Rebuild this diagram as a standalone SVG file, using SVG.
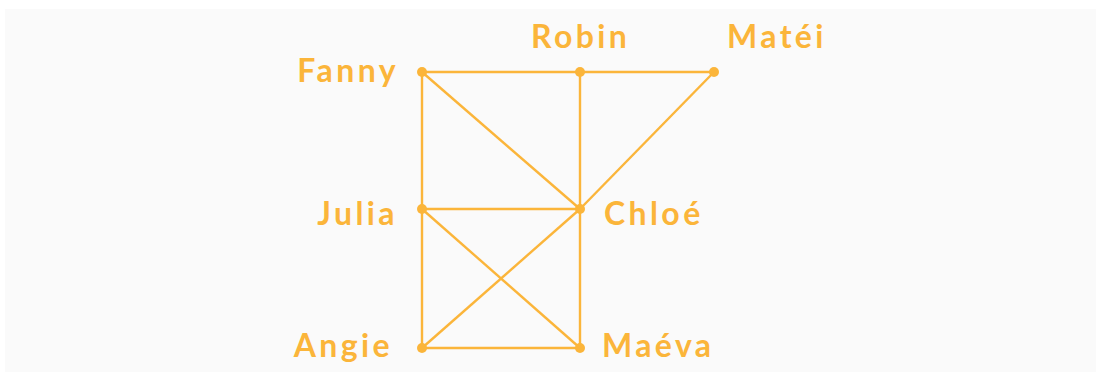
<svg xmlns="http://www.w3.org/2000/svg" width="1096" height="372" viewBox="0 0 1096 372">
<style>
.e{stroke:#FBB53A;stroke-width:2.4;fill:none}
.d{fill:#FBB53A}
.t{fill:#FBB53A;font-family:Lato,"Open Sans",sans-serif;font-weight:bold;font-size:32px;letter-spacing:3.4px}
</style>
<rect x="5" y="9" width="1091" height="363" fill="#FAFAFA"/>
<g id="connectors">
<line class="e" x1="422" y1="72" x2="580" y2="72"/>
<line class="e" x1="580" y1="72" x2="714" y2="72"/>
<line class="e" x1="422" y1="72" x2="422" y2="209"/>
<line class="e" x1="422" y1="72" x2="580" y2="209"/>
<line class="e" x1="580" y1="72" x2="580" y2="209"/>
<line class="e" x1="714" y1="72" x2="580" y2="209"/>
<line class="e" x1="422" y1="209" x2="580" y2="209"/>
<line class="e" x1="422" y1="209" x2="422" y2="348"/>
<line class="e" x1="422" y1="209" x2="580" y2="348"/>
<line class="e" x1="580" y1="209" x2="422" y2="348"/>
<line class="e" x1="580" y1="209" x2="580" y2="348"/>
<line class="e" x1="422" y1="348" x2="580" y2="348"/>
</g>
<g id="fanny"><circle class="d" cx="422" cy="72" r="5"/><text class="t" x="399" y="82" text-anchor="end">Fanny</text></g>
<g id="robin"><circle class="d" cx="580" cy="72" r="5"/><text class="t" x="531" y="48">Robin</text></g>
<g id="matei"><circle class="d" cx="714" cy="72" r="5"/><text class="t" x="727" y="48">Matéi</text></g>
<g id="julia"><circle class="d" cx="422" cy="209" r="5"/><text class="t" x="398" y="225" text-anchor="end">Julia</text></g>
<g id="chloe"><circle class="d" cx="580" cy="209" r="5"/><text class="t" x="604" y="225">Chloé</text></g>
<g id="angie"><circle class="d" cx="422" cy="348" r="5"/><text class="t" x="393" y="357" text-anchor="end">Angie</text></g>
<g id="maeva"><circle class="d" cx="580" cy="348" r="5"/><text class="t" x="602" y="357">Maéva</text></g>
</svg>
